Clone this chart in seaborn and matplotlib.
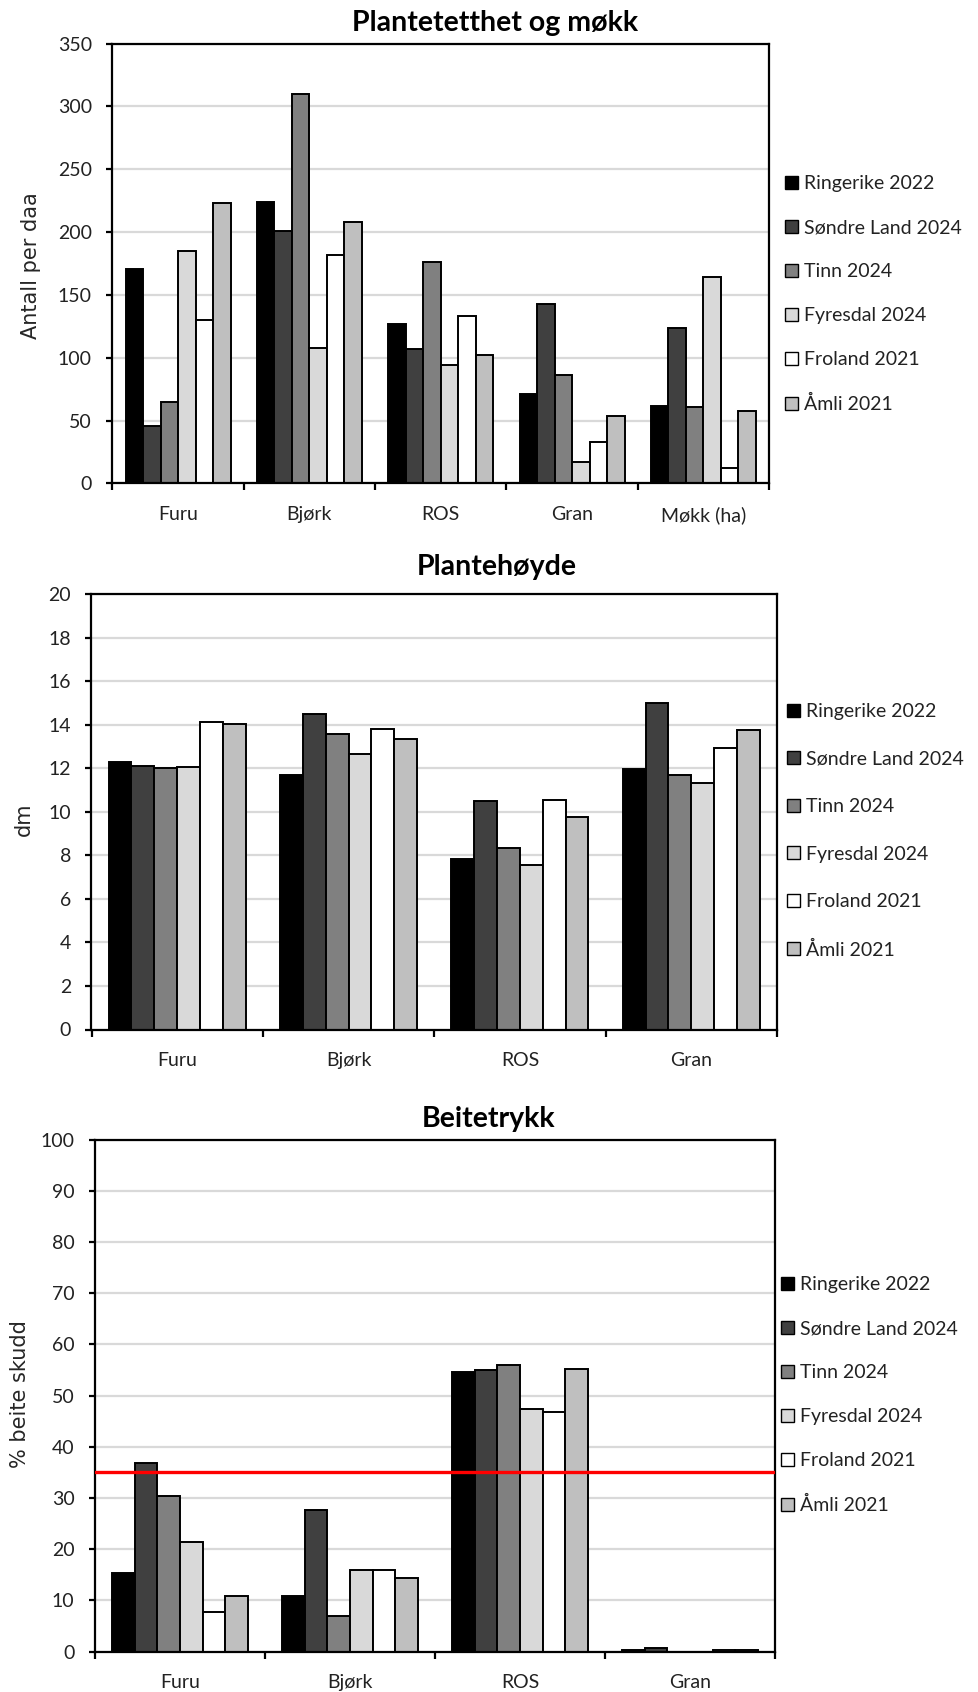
import numpy as np
import pandas as pd
import matplotlib
matplotlib.use('Agg')
import matplotlib.pyplot as plt
from matplotlib.patches import Patch
from matplotlib.ticker import MultipleLocator, FixedLocator
import seaborn as sns

# sites (hue) and their grey shades
steder = ['Ringerike 2022', 'Søndre Land 2024', 'Tinn 2024', 'Fyresdal 2024', 'Froland 2021', 'Åmli 2021']
farger = ['#000000', '#404040', '#808080', '#d9d9d9', '#ffffff', '#bfbfbf']

# panel 1: plantetetthet og møkk (antall per daa)
kat_tetthet = ['Furu', 'Bjørk', 'ROS', 'Gran', 'Møkk (ha)']
tetthet_ringerike = [171, 224, 127, 71, 62]
tetthet_sondre_land = [46, 201, 107, 143, 124]
tetthet_tinn = [65, 310, 176, 86, 61]
tetthet_fyresdal = [185, 108, 94, 17, 164]
tetthet_froland = [130, 182, 133, 33, 12]
tetthet_amli = [223, 208, 102, 54, 58]

# panel 2: plantehøyde (dm)
kat_hoyde = ['Furu', 'Bjørk', 'ROS', 'Gran']
hoyde_ringerike = [12.3, 11.7, 7.85, 11.95]
hoyde_sondre_land = [12.1, 14.5, 10.5, 15.0]
hoyde_tinn = [12.0, 13.55, 8.35, 11.7]
hoyde_fyresdal = [12.05, 12.65, 7.55, 11.3]
hoyde_froland = [14.1, 13.8, 10.55, 12.95]
hoyde_amli = [14.05, 13.35, 9.75, 13.75]

# panel 3: beitetrykk (% beite skudd)
kat_beite = ['Furu', 'Bjørk', 'ROS', 'Gran']
beite_ringerike = [15.4, 10.9, 54.5, 0.3]
beite_sondre_land = [36.9, 27.6, 54.9, 0.7]
beite_tinn = [30.3, 6.9, 55.9, 0.0]
beite_fyresdal = [21.4, 16.0, 47.3, 0.0]
beite_froland = [7.7, 16.0, 46.7, 0.3]
beite_amli = [10.9, 14.3, 55.2, 0.3]
beite_grense = 35

sns.set_theme(style='white')
plt.rcParams['font.family'] = ['Lato', 'DejaVu Sans']

W, H = 979, 1692
fig = plt.figure(figsize=(W / 100, H / 100), dpi=100)


def fx(px):
    return px / W


def fy(py):
    return 1 - py / H


def panel(box, kategorier, serier, ymax, ystep, tittel, ylabel, tittel_xy, ylab_xy, leg_xy,
          leg_spacing=1.39):
    left, top, right, bottom = box
    ax = fig.add_axes([fx(left), fy(bottom), (right - left) / W, (bottom - top) / H])
    df = pd.DataFrame({
        'kategori': np.tile(kategorier, len(steder)),
        'sted': np.repeat(steder, len(kategorier)),
        'verdi': np.concatenate(serier),
    })
    sns.barplot(data=df, x='kategori', y='verdi', hue='sted', order=kategorier,
                hue_order=steder, palette=farger, edgecolor='black', linewidth=1.4,
                errorbar=None, width=0.8, legend=False, ax=ax)
    n = len(kategorier)
    ax.set_xlim(-0.5, n - 0.5)
    ax.set_ylim(0, ymax)
    ax.yaxis.set_major_locator(MultipleLocator(ystep))
    ax.yaxis.grid(True, color='#d9d9d9', linewidth=1.6)
    ax.set_axisbelow(True)
    for sp in ax.spines.values():
        sp.set_visible(True)
        sp.set_color('black')
        sp.set_linewidth(1.6)
    ax.set_xlabel('')
    ax.set_ylabel(ylabel, fontsize=15, family='DejaVu Sans', va='center')
    ax.yaxis.set_label_coords((ylab_xy[0] - left) / (right - left),
                              (bottom - ylab_xy[1]) / (bottom - top))
    ax.xaxis.set_minor_locator(FixedLocator(np.arange(n + 1) - 0.5))
    ax.tick_params(axis='x', which='major', length=0, pad=16.5, labelsize=14, colors='#222222')
    ax.tick_params(axis='x', which='minor', bottom=True, length=5, width=1.6,
                   direction='out', color='black')
    ax.tick_params(axis='y', which='major', left=True, length=4.3, width=1.6,
                   direction='out', pad=10.5, labelsize=14, color='black', labelcolor='#222222')
    fig.text(fx(tittel_xy[0]), fy(tittel_xy[1]), tittel, ha='center', va='baseline',
             fontsize=20.5, fontweight='bold', color='black')
    handles = [Patch(facecolor=c, edgecolor='black', linewidth=1.0, label=s)
               for c, s in zip(farger, steder)]
    ax.legend(handles=handles, loc='upper left', bbox_to_anchor=(fx(leg_xy[0]), fy(leg_xy[1])),
              bbox_transform=fig.transFigure, frameon=False, fontsize=14, borderpad=0,
              borderaxespad=0, handlelength=0.65, handleheight=0.65, handletextpad=0.35,
              labelspacing=leg_spacing, labelcolor='#222222')
    return ax


panel((112.5, 43.5, 769, 483.5), kat_tetthet,
      [tetthet_ringerike, tetthet_sondre_land, tetthet_tinn, tetthet_fyresdal, tetthet_froland, tetthet_amli],
      350, 50, 'Plantetetthet og møkk', 'Antall per daa', (495, 30.7), (31, 266), (785, 175))

panel((91.5, 594, 777, 1029.5), kat_hoyde,
      [hoyde_ringerike, hoyde_sondre_land, hoyde_tinn, hoyde_fyresdal, hoyde_froland, hoyde_amli],
      20, 2, 'Plantehøyde', 'dm', (496.5, 574.6), (24, 819), (787, 703), leg_spacing=1.57)

ax3 = panel((95, 1139.5, 775, 1651.5), kat_beite,
            [beite_ringerike, beite_sondre_land, beite_tinn, beite_fyresdal, beite_froland, beite_amli],
            100, 10, 'Beitetrykk', '% beite skudd', (489, 1126.7), (20, 1394), (781, 1276))
ax3.axhline(beite_grense, color='#ff0000', linewidth=2.4, zorder=5)

fig.savefig('out.png', dpi=100)
